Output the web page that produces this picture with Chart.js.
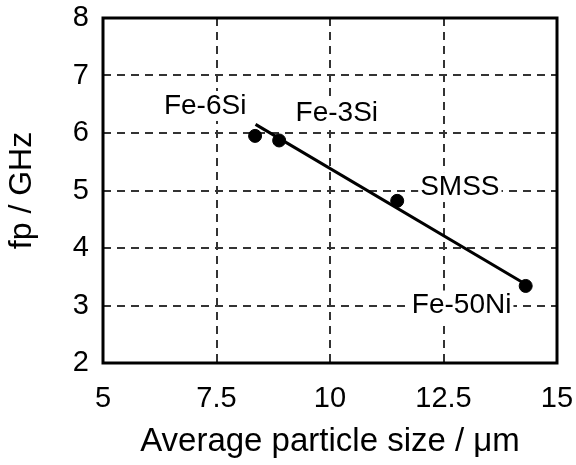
<!DOCTYPE html>
<html>
<head>
<meta charset="utf-8">
<script src="https://cdn.jsdelivr.net/npm/chart.js@4.4.1/dist/chart.umd.min.js"></script>
<style>
html,body{margin:0;padding:0;background:#fff;}
#wrap{width:576px;height:465px;position:relative;}
</style>
</head>
<body>
<div id="wrap"><canvas id="c" width="576" height="465"></canvas></div>
<script>
// Data
const alloyNames = ['Fe-6Si', 'Fe-3Si', 'SMSS', 'Fe-50Ni'];
const particleSize = [8.35, 8.88, 11.48, 14.31];   // µm
const resonanceFreq = [5.95, 5.87, 4.82, 3.34];    // GHz
const fitSize = [8.36, 14.31];
const fitFreq = [6.15, 3.37];
// label anchor points (data units)
const labelSize = [7.25, 10.15, 12.86, 12.9];
const labelFreq = [6.47, 6.35, 5.06, 3.0];
const xTicks = [5, 7.5, 10, 12.5, 15];
const yTicks = [2, 3, 4, 5, 6, 7, 8];

const FONT = "'Liberation Sans', Arial, Helvetica, sans-serif";

const framePlugin = {
  id: 'frame',
  beforeDatasetsDraw(chart) {
    const {ctx, chartArea: a} = chart;
    ctx.save();
    ctx.strokeStyle = '#000';
    ctx.lineWidth = 3;
    ctx.strokeRect(a.left, a.top, a.right - a.left, a.bottom - a.top);
    ctx.restore();
  },
  afterDatasetsDraw(chart) {
    const {ctx, scales: {x, y}} = chart;
    ctx.save();
    ctx.font = '28px ' + FONT;
    ctx.textAlign = 'center';
    ctx.textBaseline = 'middle';
    alloyNames.forEach((n, i) => {
      const px = x.getPixelForValue(labelSize[i]);
      const py = y.getPixelForValue(labelFreq[i]);
      const w = ctx.measureText(n).width;
      ctx.fillStyle = '#fff';
      ctx.fillRect(px - w / 2 - 2, py - 15, w + 4, 30);
      ctx.fillStyle = '#000';
      ctx.fillText(n, px, py);
    });
    ctx.restore();
  }
};

function zeroPad(s) {
  s.paddingTop = 0; s.paddingBottom = 0; s.paddingLeft = 0; s.paddingRight = 0;
}

new Chart(document.getElementById('c'), {
  type: 'scatter',
  data: {
    datasets: [
      {
        type: 'line',
        data: fitSize.map((v, i) => ({x: v, y: fitFreq[i]})),
        borderColor: '#000',
        borderWidth: 3,
        pointRadius: 0,
        fill: false
      },
      {
        data: particleSize.map((v, i) => ({x: v, y: resonanceFreq[i]})),
        backgroundColor: '#000',
        borderColor: '#000',
        pointRadius: 6.5,
        pointHoverRadius: 6.5
      }
    ]
  },
  options: {
    responsive: false,
    animation: false,
    events: [],
    layout: {padding: {left: 0, right: 19, top: 18, bottom: 0}},
    plugins: {legend: {display: false}, tooltip: {enabled: false}},
    scales: {
      x: {
        type: 'linear',
        min: 5, max: 15,
        afterBuildTicks(s) { s.ticks = xTicks.map(v => ({value: v})); },
        afterFit(s) { s.height = 102; zeroPad(s); },
        ticks: {
          color: '#000',
          font: {family: FONT, size: 29},
          padding: 19,
          maxRotation: 0,
          callback: v => String(v)
        },
        grid: {
          drawTicks: false,
          color: ctx => (ctx.tick && (ctx.tick.value === 5 || ctx.tick.value === 15)) ? 'rgba(0,0,0,0)' : '#333',
          lineWidth: 2
        },
        border: {display: false, dash: [8, 6]},
        title: {
          display: true,
          text: 'Average particle size / \u03bcm',
          color: '#000',
          font: {family: FONT, size: 33},
          padding: {top: 0, bottom: 3}
        }
      },
      y: {
        type: 'linear',
        min: 2, max: 8,
        afterBuildTicks(s) { s.ticks = yTicks.map(v => ({value: v})); },
        afterFit(s) { s.width = 103; zeroPad(s); },
        ticks: {
          color: '#000',
          font: {family: FONT, size: 29},
          padding: 14,
          callback: v => String(v)
        },
        grid: {
          drawTicks: false,
          color: ctx => (ctx.tick && (ctx.tick.value === 2 || ctx.tick.value === 8)) ? 'rgba(0,0,0,0)' : '#333',
          lineWidth: 2
        },
        border: {display: false, dash: [8, 6]},
        title: {
          display: true,
          text: 'fp / GHz',
          color: '#000',
          font: {family: FONT, size: 32},
          padding: {top: 3, bottom: 0}
        }
      }
    }
  },
  plugins: [framePlugin]
});
</script>
</body>
</html>
